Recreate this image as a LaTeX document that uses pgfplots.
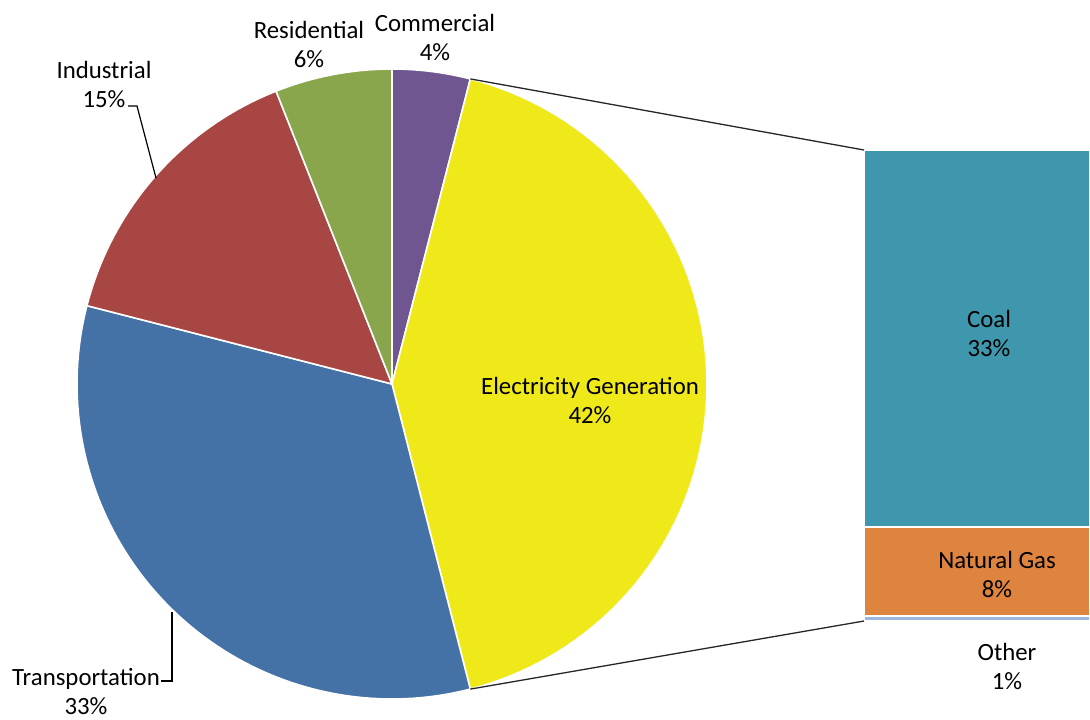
\documentclass[border=0pt]{standalone}
\usepackage{pgfplots}
\pgfplotsset{compat=1.18}
\usepackage{pgfplotstable}
\usepackage{fontspec}
\setmainfont{Carlito}

\definecolor{cCom}{HTML}{6F5690}
\definecolor{cEle}{HTML}{F0E91A}
\definecolor{cTra}{HTML}{4471A6}
\definecolor{cInd}{HTML}{A84644}
\definecolor{cRes}{HTML}{8AA64C}
\definecolor{cCoal}{HTML}{3F97AD}
\definecolor{cGas}{HTML}{DE843E}
\definecolor{cOth}{HTML}{9BB7DD}

% pie data (clockwise from the top)
\pgfplotstableread{
name pct
Commercial 4
Electricity 42
Transportation 33
Industrial 15
Residential 6
}\pietable

% bar-of-pie data (share of the Electricity Generation slice)
\pgfplotstableread{
name pct
Other 0.45
NaturalGas 7.95
Coal 33.6
}\bartable

% cumulative angles of the slices
\def\angstart{90}
\pgfplotsforeachungrouped \i in {0,...,4}{%
  \pgfplotstablegetelem{\i}{pct}\of\pietable
  \pgfmathsetmacro\angend{\angstart-3.6*\pgfplotsretval}%
  \expandafter\xdef\csname sA\i\endcsname{\angstart}%
  \expandafter\xdef\csname sB\i\endcsname{\angend}%
  \global\let\angstart\angend
}
\edef\topang{\csname sB0\endcsname}
\edef\botang{\csname sB1\endcsname}

\def\cx{392}\def\cy{384}\def\rr{315}

\begin{document}
\begin{tikzpicture}
\fontsize{12.4}{14.5}\selectfont
% ---- bar of pie ----
\begin{axis}[at={(432pt,49pt)}, anchor=south west,
  width=113pt, height=235.5pt, scale only axis,
  xmin=0, xmax=1, ymin=0, ymax=42, hide axis,
  ybar stacked, bar width=113pt, clip=false]
\addplot[fill=cOth, draw=white, line width=0.7pt] table[x expr=0.5, y=pct, skip coords between index={1}{3}] {\bartable};
\addplot[fill=cGas, draw=white, line width=0.7pt] table[x expr=0.5, y=pct, skip coords between index={0}{1}, skip coords between index={2}{3}] {\bartable};
\addplot[fill=cCoal, draw=white, line width=0.7pt] table[x expr=0.5, y=pct, skip coords between index={0}{2}] {\bartable};
\end{axis}
% ---- pie ----
\begin{axis}[at={(0pt,0pt)}, anchor=south west,
  width=545pt, height=359.5pt, scale only axis,
  xmin=0, xmax=1090, ymin=0, ymax=719, y dir=reverse,
  hide axis, clip=false]
\foreach \i/\col in {0/cCom,1/cEle,2/cTra,3/cInd,4/cRes}{%
  \edef\temp{\noexpand\fill[\col, draw=white, line width=0.8pt, line join=round]
    (axis cs:\cx,\cy) -- plot[domain=\csname sB\i\endcsname:\csname sA\i\endcsname, samples=80]
    (axis cs:{\cx+\rr*cos(\noexpand\x)},{\cy-\rr*sin(\noexpand\x)}) -- cycle;}%
  \temp
}
% connector lines
\edef\temp{\noexpand\draw[black!85, line width=0.65pt]
  (axis cs:{\cx+\rr*cos(\topang)},{\cy-\rr*sin(\topang)}) -- (axis cs:864,150);}\temp
\edef\temp{\noexpand\draw[black!85, line width=0.65pt]
  (axis cs:{\cx+\rr*cos(\botang)},{\cy-\rr*sin(\botang)}) -- (axis cs:864,621);}\temp
% leader lines
\draw[black, line width=0.6pt] (axis cs:128,106) -- (axis cs:137,106) -- (axis cs:156,178);
\draw[black, line width=0.6pt] (axis cs:161,681) -- (axis cs:172,681) -- (axis cs:172,612);
% labels
\node[align=center] at (axis cs:435,37) {Commercial\\4\%};
\node[align=center] at (axis cs:309,44) {Residential\\6\%};
\node[align=center] at (axis cs:104,84) {Industrial\\15\%};
\node[align=center, inner sep=0pt] at (axis cs:86,692) {Transportation\\33\%};
\node[align=center] at (axis cs:590,400) {Electricity Generation\\42\%};
\node[align=center] at (axis cs:989,333) {Coal\\33\%};
\node[align=center] at (axis cs:997,574) {Natural Gas\\8\%};
\node[align=center] at (axis cs:1007,666) {Other\\1\%};
\end{axis}
\pgfresetboundingbox
\useasboundingbox (0,0) rectangle (545pt,359.5pt);
\end{tikzpicture}
\end{document}
